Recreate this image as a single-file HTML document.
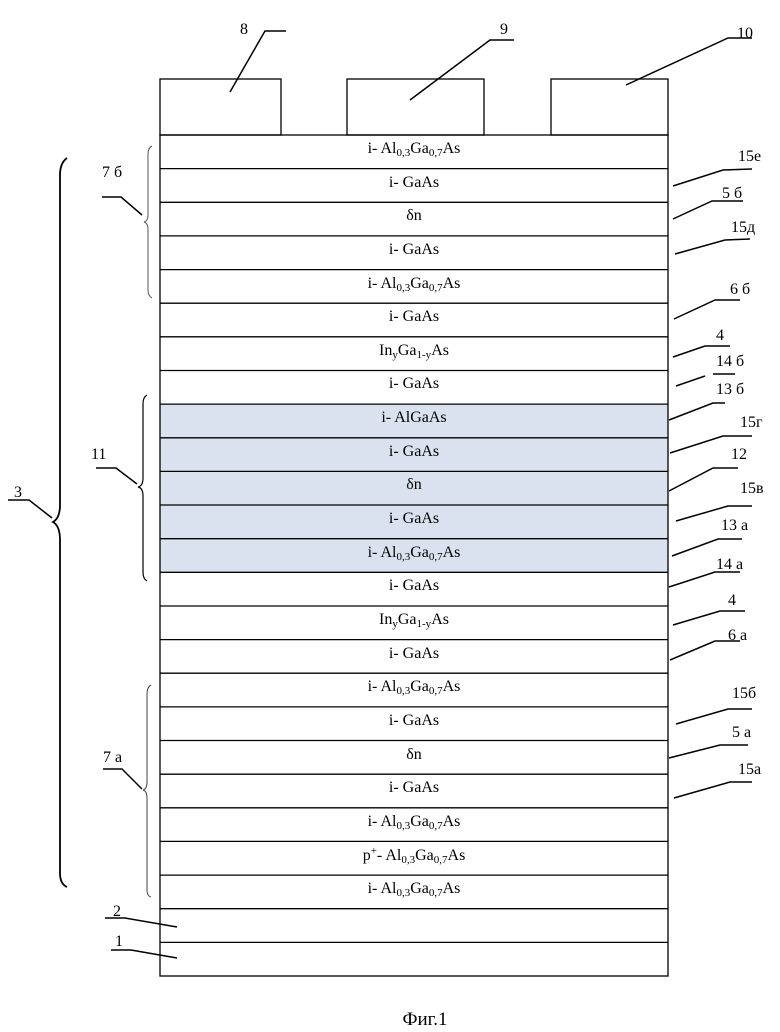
<!DOCTYPE html>
<html><head><meta charset="utf-8"><style>
html,body{margin:0;padding:0;background:#fff;}
svg{display:block;}
text{font-family:"Liberation Serif",serif;fill:#000;}
</style></head><body>
<svg width="780" height="1032" viewBox="0 0 780 1032" xmlns="http://www.w3.org/2000/svg">
<!-- shaded region -->
<rect x="160" y="404.6" width="508" height="168.2" fill="#d9e2ee"/>
<!-- electrodes -->
<g fill="none" stroke="#000" stroke-width="1.3">
<rect x="160" y="79" width="121" height="56"/>
<rect x="347" y="79" width="137" height="56"/>
<rect x="551" y="79" width="117" height="56"/>
<!-- stack -->
<rect x="160" y="135" width="508" height="841"/>
</g>
<g stroke="#000" stroke-width="1.3" id="rows">
<line x1="160" x2="668" y1="168.6" y2="168.6"/>
<line x1="160" x2="668" y1="202.3" y2="202.3"/>
<line x1="160" x2="668" y1="235.9" y2="235.9"/>
<line x1="160" x2="668" y1="269.6" y2="269.6"/>
<line x1="160" x2="668" y1="303.2" y2="303.2"/>
<line x1="160" x2="668" y1="336.8" y2="336.8"/>
<line x1="160" x2="668" y1="370.5" y2="370.5"/>
<line x1="160" x2="668" y1="404.1" y2="404.1"/>
<line x1="160" x2="668" y1="437.8" y2="437.8"/>
<line x1="160" x2="668" y1="471.4" y2="471.4"/>
<line x1="160" x2="668" y1="505.0" y2="505.0"/>
<line x1="160" x2="668" y1="538.7" y2="538.7"/>
<line x1="160" x2="668" y1="572.3" y2="572.3"/>
<line x1="160" x2="668" y1="606.0" y2="606.0"/>
<line x1="160" x2="668" y1="639.6" y2="639.6"/>
<line x1="160" x2="668" y1="673.2" y2="673.2"/>
<line x1="160" x2="668" y1="706.9" y2="706.9"/>
<line x1="160" x2="668" y1="740.5" y2="740.5"/>
<line x1="160" x2="668" y1="774.2" y2="774.2"/>
<line x1="160" x2="668" y1="807.8" y2="807.8"/>
<line x1="160" x2="668" y1="841.4" y2="841.4"/>
<line x1="160" x2="668" y1="875.1" y2="875.1"/>
<line x1="160" x2="668" y1="908.7" y2="908.7"/>
<line x1="160" x2="668" y1="942.4" y2="942.4"/>
</g>
<!-- layer labels -->
<g font-size="16" text-anchor="middle">
<text x="414" y="153">i- Al<tspan font-size="11" dy="3">0,3</tspan><tspan dy="-3">Ga</tspan><tspan font-size="11" dy="3">0,7</tspan><tspan dy="-3">As</tspan></text>
<text x="414" y="187">i- GaAs</text>
<text x="414" y="220">δn</text>
<text x="414" y="254">i- GaAs</text>
<text x="414" y="288">i- Al<tspan font-size="11" dy="3">0,3</tspan><tspan dy="-3">Ga</tspan><tspan font-size="11" dy="3">0,7</tspan><tspan dy="-3">As</tspan></text>
<text x="414" y="321">i- GaAs</text>
<text x="414" y="355">In<tspan font-size="11" dy="3">y</tspan><tspan dy="-3">Ga</tspan><tspan font-size="11" dy="3">1-y</tspan><tspan dy="-3">As</tspan></text>
<text x="414" y="388">i- GaAs</text>
<text x="414" y="422">i- AlGaAs</text>
<text x="414" y="456">i- GaAs</text>
<text x="414" y="489">δn</text>
<text x="414" y="523">i- GaAs</text>
<text x="414" y="557">i- Al<tspan font-size="11" dy="3">0,3</tspan><tspan dy="-3">Ga</tspan><tspan font-size="11" dy="3">0,7</tspan><tspan dy="-3">As</tspan></text>
<text x="414" y="590">i- GaAs</text>
<text x="414" y="624">In<tspan font-size="11" dy="3">y</tspan><tspan dy="-3">Ga</tspan><tspan font-size="11" dy="3">1-y</tspan><tspan dy="-3">As</tspan></text>
<text x="414" y="658">i- GaAs</text>
<text x="414" y="691">i- Al<tspan font-size="11" dy="3">0,3</tspan><tspan dy="-3">Ga</tspan><tspan font-size="11" dy="3">0,7</tspan><tspan dy="-3">As</tspan></text>
<text x="414" y="725">i- GaAs</text>
<text x="414" y="759">δn</text>
<text x="414" y="792">i- GaAs</text>
<text x="414" y="826">i- Al<tspan font-size="11" dy="3">0,3</tspan><tspan dy="-3">Ga</tspan><tspan font-size="11" dy="3">0,7</tspan><tspan dy="-3">As</tspan></text>
<text x="414" y="860">p<tspan font-size="11" dy="-6">+</tspan><tspan dy="6">- Al</tspan><tspan font-size="11" dy="3">0,3</tspan><tspan dy="-3">Ga</tspan><tspan font-size="11" dy="3">0,7</tspan><tspan dy="-3">As</tspan></text>
<text x="414" y="893">i- Al<tspan font-size="11" dy="3">0,3</tspan><tspan dy="-3">Ga</tspan><tspan font-size="11" dy="3">0,7</tspan><tspan dy="-3">As</tspan></text>
</g>
<!-- leaders -->
<g fill="none" stroke="#000" stroke-width="1.5">
<polyline points="230,92 265,31 286,31"/>
<polyline points="410,100 490,40 514,40"/>
<polyline points="626,85 728,38 752,38"/>
<polyline points="673,186 723,170 752,169"/>
<polyline points="673,219 712,201 743,201"/>
<polyline points="675,254 725,240 750,239"/>
<polyline points="674,319 715,300 740,300"/>
<polyline points="673,357 705,346 730,346"/>
<polyline points="676,386 705,376"/>
<line x1="713" y1="374" x2="735" y2="374"/>
<polyline points="669,420 713,403 725,403"/>
<polyline points="670,453 723,436 752,436"/>
<polyline points="669,491 713,468 738,468"/>
<polyline points="676,521 728,506 752,506"/>
<polyline points="672,556 718,539 742,539"/>
<polyline points="669,587 715,572 740,572"/>
<polyline points="673,625 720,611 745,611"/>
<polyline points="670,660 715,641 740,641"/>
<polyline points="676,724 728,709 752,709"/>
<polyline points="669,758 720,745 748,745"/>
<polyline points="674,798 730,782 752,782"/>
<!-- left leaders -->
<polyline points="8,500 29,500 52,518"/>
<polyline points="102,197 121,197 142,215"/>
<polyline points="96,468 116,468 137,484"/>
<polyline points="103,769 122,769 142,789"/>
<polyline points="105,918 125,918 177,927"/>
<polyline points="111,950 131,950 177,958"/>
</g>
<!-- braces -->
<g fill="none" stroke="#000">
<path stroke-width="1.8" d="M67,158 Q60,163 60,175 L60,505 Q60,518 53,522 Q60,526 60,540 L60,873 Q60,884 67,887"/>
<path stroke-width="1" stroke="#555" d="M152,146 Q148,148 148,154 L148,215 Q148,221 144,222 Q148,223 148,229 L148,290 Q148,296 152,298"/>
<path stroke-width="1.2" d="M147,395 Q143,397 143,404 L143,478 Q143,486 138,487 Q143,488 143,496 L143,572 Q143,579 147,581"/>
<path stroke-width="1" stroke="#444" d="M151,685 Q147,687 147,694 L147,782 Q147,789 143,790 Q147,791 147,798 L147,890 Q147,896 151,897"/>
</g>
<!-- label text -->
<g font-size="16">
<text x="240" y="34">8</text>
<text x="500" y="34">9</text>
<text x="737" y="38">10</text>
<text x="738" y="161">15е</text>
<text x="722" y="198">5 б</text>
<text x="731" y="232">15д</text>
<text x="730" y="294">6 б</text>
<text x="716" y="340">4</text>
<text x="716" y="366">14 б</text>
<text x="716" y="394">13 б</text>
<text x="740" y="427">15г</text>
<text x="731" y="459">12</text>
<text x="740" y="493">15в</text>
<text x="721" y="530">13 а</text>
<text x="716" y="569">14 а</text>
<text x="728" y="605">4</text>
<text x="728" y="640">6 а</text>
<text x="732" y="698">15б</text>
<text x="732" y="737">5 а</text>
<text x="738" y="774">15а</text>
<text x="14" y="497">3</text>
<text x="102" y="177">7 б</text>
<text x="91" y="459">11</text>
<text x="103" y="762">7 а</text>
<text x="113" y="916">2</text>
<text x="115" y="946">1</text>
</g>
<text x="425" y="1025" font-size="19" text-anchor="middle">Фиг.1</text>
</svg>
</body></html>
